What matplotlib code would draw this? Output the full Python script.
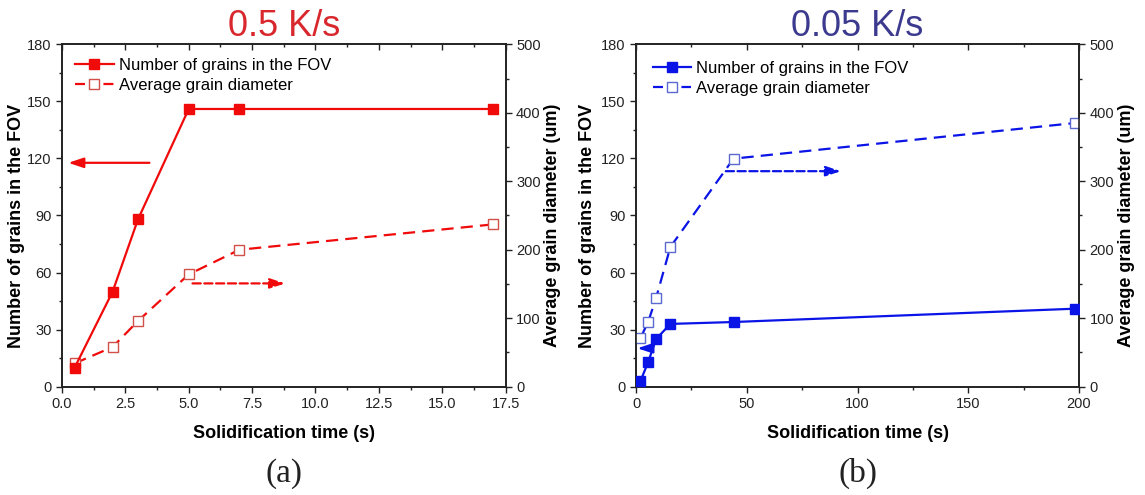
import numpy as np
import matplotlib
matplotlib.use('Agg')
import matplotlib.pyplot as plt
from matplotlib.lines import Line2D
from matplotlib.ticker import AutoMinorLocator

plt.rcParams['font.family'] = ['Liberation Sans', 'DejaVu Sans']

# panel (a): 0.5 K/s
time_a = [0.5, 2, 3, 5, 7, 17]
grains_a = [10, 50, 88, 146, 146, 146]
diam_a = [34, 58, 96, 164, 200, 237]

# panel (b): 0.05 K/s
time_b = [2, 5.5, 9, 15.5, 44, 198]
grains_b = [3, 13, 25, 33, 34, 41]
diam_b = [71, 95, 129, 204, 333, 385]

titles = ['0.5 K/s', '0.05 K/s']
title_colors = ['#d9272e', '#3c3a8e']
captions = ['(a)', '(b)']

# arrows in data coords of the left axis: (x_start, x_end, y, linestyle)
arrows_a = [(3.45, 0.25, 117.7, '-'), (5.15, 8.8, 54.3, '--')]
arrows_b = [(5.5, 0.6, 20.2, '-'), (40.5, 92.5, 113.3, '--')]

fig = plt.figure(figsize=(11.45, 4.95), dpi=100)

panels = [
    dict(rect=[0.0541, 0.2188, 0.3875, 0.6917], t=time_a, g=grains_a, d=diam_a,
         col='#f00a0a', open_edge='#d0504a', xlim=(0, 17.5),
         xticks=np.arange(0, 17.6, 2.5), xfmt='%.1f', arrows=arrows_a,
         ylab_x=(-0.083, 1.086)),
    dict(rect=[0.5555, 0.2188, 0.3869, 0.6917], t=time_b, g=grains_b, d=diam_b,
         col='#0a14e6', open_edge='#5a6ad0', xlim=(0, 200),
         xticks=np.arange(0, 201, 50), xfmt='%d', arrows=arrows_b,
         ylab_x=(-0.091, 1.088)),
]

for i, p in enumerate(panels):
    ax = fig.add_axes(p['rect'])
    ax2 = ax.twinx()
    col = p['col']
    l1, = ax.plot(p['t'], p['g'], '-', color=col, lw=1.6, marker='s', ms=6.5,
                  mfc=col, mec=col, label='Number of grains in the FOV', zorder=3)
    ax2.plot(p['t'], p['d'], '--', color=col, lw=1.6, marker='s', ms=6.5,
             mfc='white', mec=p['open_edge'], mew=1.0,
             dashes=(5.5, 3.2), zorder=3)
    # legend proxy so the handle reads "- [] -"
    l2 = Line2D([], [], color=col, lw=1.6, ls='--', dashes=(4.5, 1.9), marker='s',
                ms=6.5, mfc='white', mec=p['open_edge'], mew=1.0,
                label='Average grain diameter')
    ax.set_xlim(*p['xlim'])
    ax.set_ylim(0, 180)
    ax2.set_ylim(0, 500)
    ax.set_xticks(p['xticks'])
    ax.set_xticklabels([p['xfmt'] % v for v in p['xticks']])
    ax.set_yticks(np.arange(0, 181, 30))
    ax2.set_yticks(np.arange(0, 501, 100))
    ax.xaxis.set_minor_locator(AutoMinorLocator(2))
    ax.yaxis.set_minor_locator(AutoMinorLocator(2))
    ax2.yaxis.set_minor_locator(AutoMinorLocator(2))
    ax.tick_params(axis='both', which='major', direction='out', length=4.5,
                   width=1.0, labelsize=10.5, colors='#222222', pad=3)
    ax.tick_params(axis='both', which='minor', direction='out', length=2.5,
                   width=1.0, colors='#222222')
    ax.tick_params(axis='x', which='both', top=True)
    ax2.tick_params(axis='y', which='major', direction='out', length=4.5,
                    width=1.0, labelsize=10.5, colors='#222222', pad=3)
    ax2.tick_params(axis='y', which='minor', direction='out', length=2.5,
                    width=1.0, colors='#222222')
    # top ticks point inward
    for tk in ax.xaxis.get_major_ticks() + ax.xaxis.get_minor_ticks():
        tk.tick2line.set_marker(matplotlib.lines.TICKDOWN)
    for sp in list(ax.spines.values()) + list(ax2.spines.values()):
        sp.set_linewidth(1.2)
        sp.set_color('#222222')
    ax.set_xlabel('Solidification time (s)', fontsize=13, fontweight='bold', labelpad=10)
    ax.set_ylabel('Number of grains in the FOV', fontsize=13, fontweight='bold')
    ax2.set_ylabel('Average grain diameter (um)', fontsize=13, fontweight='bold')
    ax.yaxis.set_label_coords(p['ylab_x'][0], 0.47)
    ax2.yaxis.set_label_coords(p['ylab_x'][1], 0.47)
    ax.set_title(titles[i], color=title_colors[i], fontsize=26, pad=2)

    for x0, x1, y, ls in p['arrows']:
        ax.annotate('', xy=(x1, y), xytext=(x0, y),
                    arrowprops=dict(arrowstyle='-|>,head_length=0.9,head_width=0.3',
                                    color=col, lw=1.6, linestyle=ls,
                                    shrinkA=0, shrinkB=0), zorder=4)

    leg = ax.legend(handles=[l1, l2], loc='upper left', fontsize=12, frameon=False,
                    handlelength=2.3, handletextpad=0.3, labelspacing=0.3,
                    borderaxespad=0.4 if i == 0 else 0.6)
    ax.set_zorder(ax2.get_zorder() + 1)
    ax.patch.set_visible(False)

    cx = p['rect'][0] + p['rect'][2] / 2
    fig.text(cx, 0.044, captions[i], ha='center', va='center', fontsize=24,
             family=['Liberation Serif', 'DejaVu Serif'], color='#222222')

fig.savefig('out.png', dpi=100)
